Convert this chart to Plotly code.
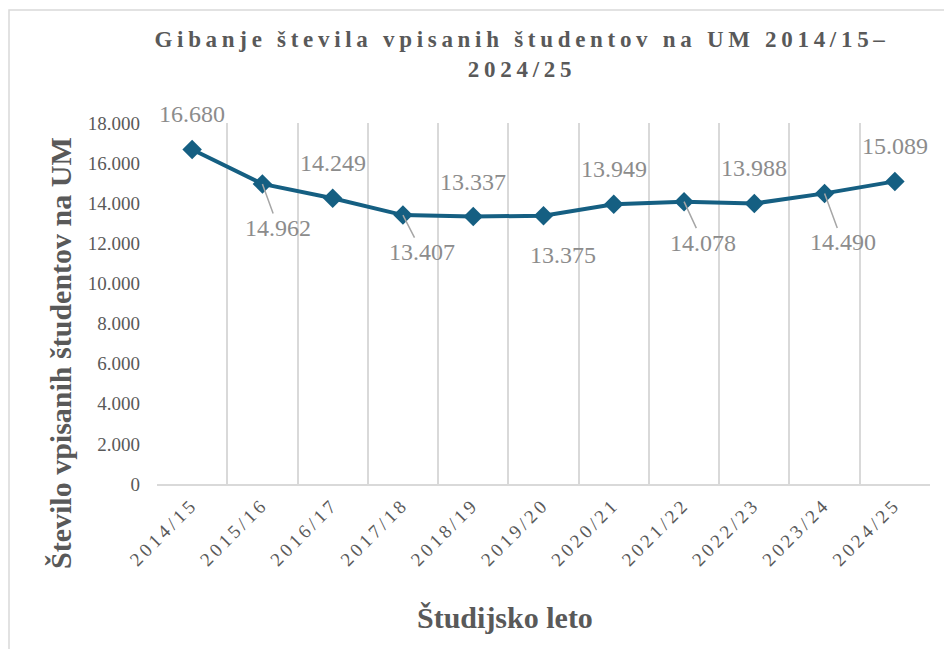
import plotly.graph_objects as go

# ---- data ----
years = ["2014/15", "2015/16", "2016/17", "2017/18", "2018/19", "2019/20",
         "2020/21", "2021/22", "2022/23", "2023/24", "2024/25"]
students = [16680, 14962, 14249, 13407, 13337, 13375, 13949, 14078, 13988, 14490, 15089]
y_ticks = [0, 2000, 4000, 6000, 8000, 10000, 12000, 14000, 16000, 18000]

# ---- label styling (placement only) ----
placement = ["above", "below", "above", "below", "above", "below",
             "above", "below", "above", "below", "above"]
below_dx = [0, 16, 0, 19, 0, 19, 0, 19, 0, 18, 0]
below_dy = [0, 44, 0, 37, 0, 39, 0, 41, 0, 49, 0]

LINE = "#155F82"
SERIF = "Liberation Serif, serif"
DARK = "#595959"
LABEL = "#8C8C8C"
GRID = "#D9D9D9"

L, R, T, B = 157, 14, 123, 165
W, H = 944, 649
pw, ph = W - L - R, H - T - B

def fmt(v):
    return f"{v:,}".replace(",", ".")

fig = go.Figure()
fig.add_trace(go.Scatter(
    x=years, y=students, mode="lines+markers",
    line=dict(color=LINE, width=4),
    marker=dict(symbol="diamond", size=15, color=LINE),
    hoverinfo="x+y", showlegend=False,
))

annotations = []
for i, (yr, v) in enumerate(zip(years, students)):
    if placement[i] == "above":
        annotations.append(dict(
            x=yr, y=v, xref="x", yref="y", text=fmt(v), showarrow=False,
            yshift=35, font=dict(family=SERIF, size=24, color=LABEL)))
    else:
        annotations.append(dict(
            x=yr, y=v, xref="x", yref="y", text=fmt(v), showarrow=True,
            arrowhead=0, arrowwidth=1.5, arrowcolor="#A6A6A6", standoff=0,
            ax=below_dx[i], ay=below_dy[i],
            font=dict(family=SERIF, size=24, color=LABEL)))

# axis titles
annotations.append(dict(
    text="Število vpisanih študentov na UM", textangle=-90,
    xref="paper", yref="paper", x=(60 - L) / pw, y=(H - B - 353) / ph,
    xanchor="center", yanchor="middle", showarrow=False,
    font=dict(family=SERIF, size=30, color=DARK, weight="bold")))
annotations.append(dict(
    text="Študijsko leto",
    xref="paper", yref="paper", x=(505 - L) / pw, y=(H - B - 617) / ph,
    xanchor="center", yanchor="middle", showarrow=False,
    font=dict(family=SERIF, size=30, color=DARK, weight="bold")))

fig.update_layout(
    width=W, height=H,
    margin=dict(l=L, r=R, t=T, b=B),
    paper_bgcolor="white", plot_bgcolor="white",
    separators=",.",
    title=dict(
        text="Gibanje števila vpisanih študentov na UM 2014/15–<br>2024/25",
        x=(522 - L) / pw, xref="paper", xanchor="center",
        y=1 - 47 / H, yref="container", yanchor="top",
        font=dict(family=SERIF, size=23, color=DARK, weight="bold")),
    xaxis=dict(
        type="category", tickson="boundaries", ticks="",
        showgrid=True, gridcolor=GRID, gridwidth=1.5,
        showline=True, linecolor=GRID, linewidth=1.5,
        tickangle=-45, tickfont=dict(family=SERIF, size=19, color=DARK),
        range=[-0.5, 10.5], zeroline=False),
    yaxis=dict(
        range=[0, 18000], tickvals=y_ticks, tickformat=",d",
        showgrid=False, zeroline=False, showline=False, ticks="",
        ticklabelstandoff=16,
        tickfont=dict(family=SERIF, size=19, color=DARK)),
    annotations=annotations,
    shapes=[dict(type="rect", xref="paper", yref="paper",
                 x0=(9 - L) / pw, x1=(W + 20 - L) / pw,
                 y0=(H - B - (H + 20)) / ph, y1=(H - B - 10) / ph,
                 line=dict(color=GRID, width=1.5), layer="below")],
)

post = """
document.body.style.margin='0';
document.body.style.overflow='hidden';
var gd=document.getElementById('{plot_id}');
function ls(){
  gd.querySelectorAll('.gtitle').forEach(function(e){e.style.letterSpacing='4.7px';});
  gd.querySelectorAll('.xtick text').forEach(function(e){e.style.letterSpacing='3.5px';});
}
ls();
gd.on('plotly_afterplot', ls);
"""

fig.write_html("out.html", post_script=post, config={"displayModeBar": False})
